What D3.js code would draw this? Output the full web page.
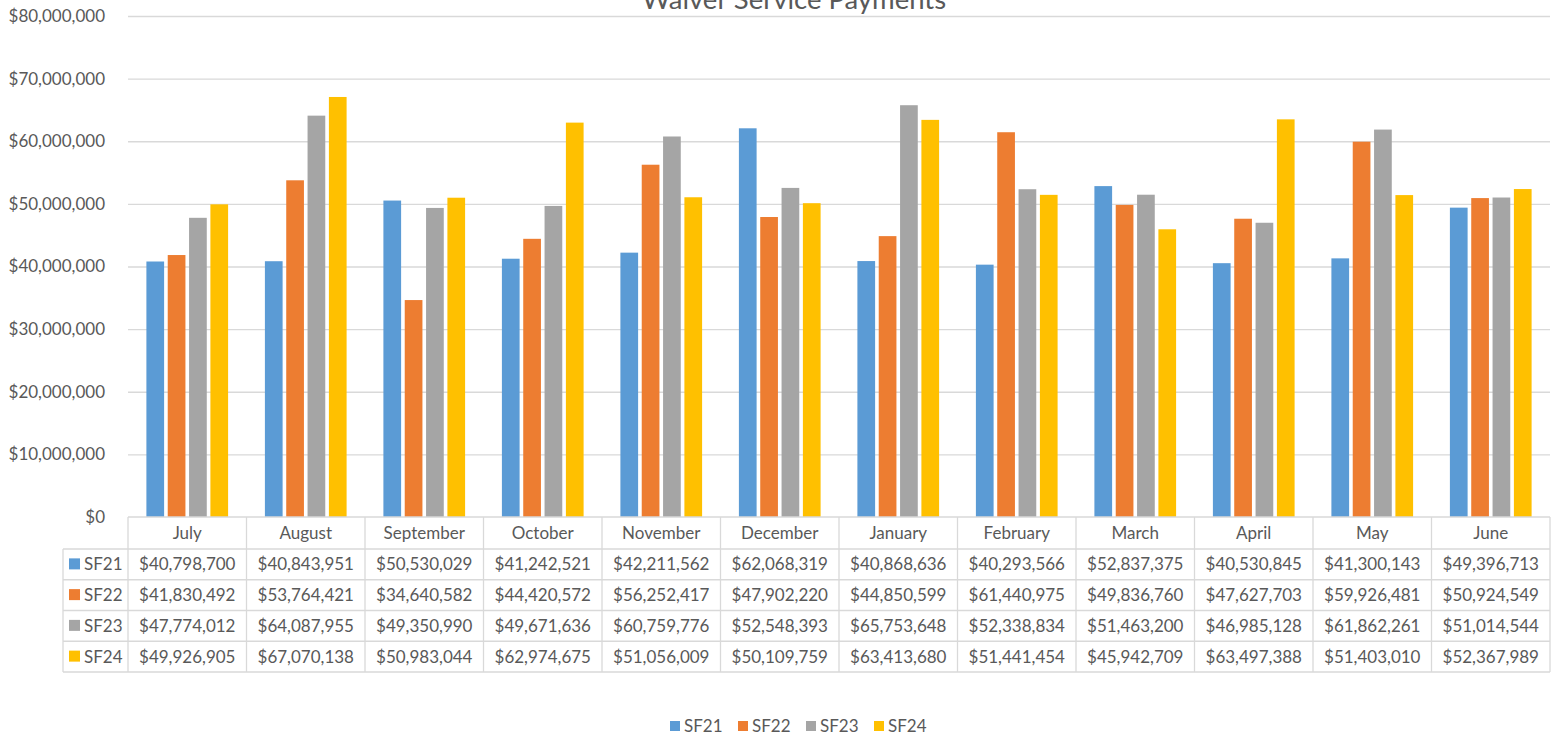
<!DOCTYPE html>
<html>
<head>
<meta charset="utf-8">
<script src="https://cdn.jsdelivr.net/npm/d3@7"></script>
<style>
	body { margin: 0; background: #fff; }
	text { font-family: Lato, "Open Sans", sans-serif; fill: #595959; }
</style>
</head>
<body>
<div id="root"></div>
<script>
const months = ["July", "August", "September", "October", "November", "December",
	"January", "February", "March", "April", "May", "June"];
const seriesNames = ["SF21", "SF22", "SF23", "SF24"];
const sf21 = [40798700, 40843951, 50530029, 41242521, 42211562, 62068319, 40868636, 40293566, 52837375, 40530845, 41300143, 49396713];
const sf22 = [41830492, 53764421, 34640582, 44420572, 56252417, 47902220, 44850599, 61440975, 49836760, 47627703, 59926481, 50924549];
const sf23 = [47774012, 64087955, 49350990, 49671636, 60759776, 52548393, 65753648, 52338834, 51463200, 46985128, 61862261, 51014544];
const sf24 = [49926905, 67070138, 50983044, 62974675, 51056009, 50109759, 63413680, 51441454, 45942709, 63497388, 51403010, 52367989];
const yTicks = [0, 10000000, 20000000, 30000000, 40000000, 50000000, 60000000, 70000000, 80000000];

const colors = ["#5B9BD5", "#ED7D31", "#A5A5A5", "#FFC000"];
const values = [sf21, sf22, sf23, sf24];

const w = 1562;
const h = 736;
const plotLeft = 128;
const plotRight = 1550;
const plotTop = 16;
const plotBottom = 517;
const tableLeft = 63;
const headerBottom = 549;
const tableBottom = 672;
const money = d => "$" + d3.format(",")(d);

const svg = d3.select("#root")
	.append("svg")
	.attr("width", w)
	.attr("height", h);

const xScale = d3.scaleBand()
	.domain(months)
	.range([plotLeft, plotRight]);

const cw = xScale.bandwidth();
const x1 = d3.scaleBand()
	.domain(seriesNames)
	.range([18.4, cw - 18.4])
	.paddingInner(0.17);

const yScale = d3.scaleLinear()
	.domain([0, 80000000])
	.range([plotBottom, plotTop]);

// gridlines + y labels
const yAxis = d3.axisLeft(yScale)
	.tickValues(yTicks)
	.tickFormat(money)
	.tickSize(-(plotRight - plotLeft))
	.tickPadding(23);

svg.append("g")
	.attr("transform", "translate(" + plotLeft + ",0)")
	.call(yAxis)
	.call(g => g.select(".domain").remove())
	.call(g => g.selectAll(".tick line").attr("stroke", "#d9d9d9").attr("stroke-width", 1.3))
	.call(g => g.selectAll(".tick").filter(d => d === 0).select("line").remove())
	.call(g => g.selectAll(".tick text").style("font-size", "17px").attr("fill", "#595959"));

// title sits partly above the top edge, as in the original
svg.append("text")
	.attr("x", 794)
	.attr("y", 9)
	.attr("text-anchor", "middle")
	.style("font-size", "27.5px")
	.text("Waiver Service Payments");

// bars
seriesNames.forEach((s, si) => {
	svg.append("g")
		.selectAll("rect")
		.data(values[si])
		.enter()
		.append("rect")
		.attr("x", (d, i) => xScale(months[i]) + x1(s))
		.attr("y", d => yScale(d))
		.attr("width", x1.bandwidth())
		.attr("height", d => yScale(0) - yScale(d))
		.attr("fill", colors[si]);
});

// data table
const rowScale = d3.scaleBand()
	.domain(seriesNames)
	.range([headerBottom, tableBottom]);

const grid = svg.append("g")
	.attr("stroke", "#d9d9d9")
	.attr("stroke-width", 1.3);

grid.append("line")
	.attr("x1", plotLeft).attr("x2", plotRight)
	.attr("y1", plotBottom).attr("y2", plotBottom);

[headerBottom].concat(seriesNames.map(s => rowScale(s) + rowScale.bandwidth())).forEach(y => {
	grid.append("line")
		.attr("x1", tableLeft).attr("x2", plotRight)
		.attr("y1", y).attr("y2", y);
});

grid.append("line")
	.attr("x1", tableLeft).attr("x2", tableLeft)
	.attr("y1", headerBottom).attr("y2", tableBottom);

months.map(m => xScale(m)).concat([plotRight]).forEach(x => {
	grid.append("line")
		.attr("x1", x).attr("x2", x)
		.attr("y1", plotBottom).attr("y2", tableBottom);
});

svg.append("g")
	.selectAll("text")
	.data(months)
	.enter()
	.append("text")
	.attr("x", d => xScale(d) + cw / 2)
	.attr("y", (plotBottom + headerBottom) / 2)
	.attr("dy", "0.36em")
	.attr("text-anchor", "middle")
	.style("font-size", "17px")
	.text(d => d);

seriesNames.forEach((s, si) => {
	const cy = rowScale(s) + rowScale.bandwidth() / 2;
	svg.append("rect")
		.attr("x", 69)
		.attr("y", cy - 6)
		.attr("width", 11)
		.attr("height", 11)
		.attr("fill", colors[si]);
	svg.append("text")
		.attr("x", 84)
		.attr("y", cy)
		.attr("dy", "0.36em")
		.style("font-size", "17px")
		.text(s);
	svg.append("g")
		.selectAll("text")
		.data(values[si])
		.enter()
		.append("text")
		.attr("x", (d, i) => xScale(months[i]) + cw / 2)
		.attr("y", cy)
		.attr("dy", "0.36em")
		.attr("text-anchor", "middle")
		.style("font-size", "17px")
		.text(d => money(d));
});

// legend
const legendX = d3.scaleBand()
	.domain(seriesNames)
	.range([670, 942]);

const legend = svg.append("g")
	.selectAll("g")
	.data(seriesNames)
	.enter()
	.append("g")
	.attr("transform", d => "translate(" + legendX(d) + ",721)");

legend.append("rect")
	.attr("width", 10)
	.attr("height", 10)
	.attr("fill", (d, i) => colors[i]);

legend.append("text")
	.attr("x", 14)
	.attr("y", 5)
	.attr("dy", "0.36em")
	.style("font-size", "17px")
	.text(d => d);
</script>
</body>
</html>
